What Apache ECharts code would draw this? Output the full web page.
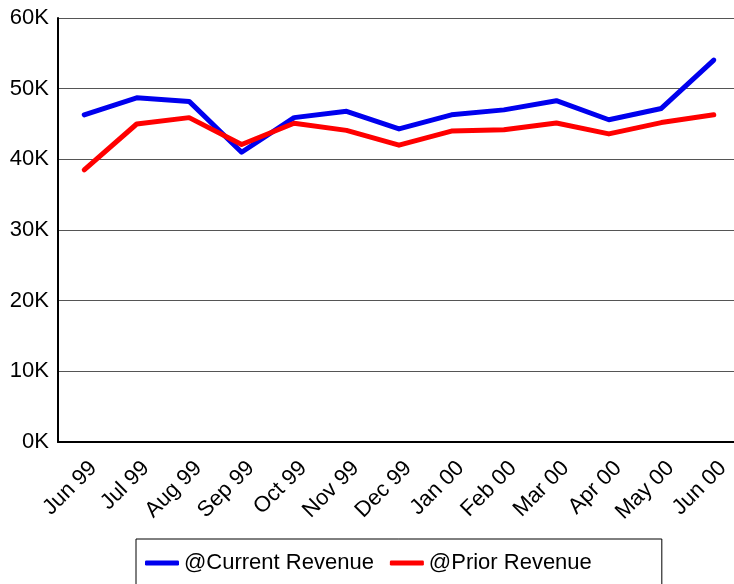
<!DOCTYPE html>
<html>
<head>
<meta charset="utf-8">
<script src="https://cdn.jsdelivr.net/npm/echarts@6/dist/echarts.min.js"></script>
<style>
  html, body { margin: 0; padding: 0; background: #fff; overflow: hidden; }
  /* a little wider than the window so the plot runs off the right edge */
  #chart { width: 740px; height: 584px; }
</style>
</head>
<body>
<div id="chart"></div>
<script>
// months on the x axis
const months = ['Jun 99', 'Jul 99', 'Aug 99', 'Sep 99', 'Oct 99', 'Nov 99', 'Dec 99',
  'Jan 00', 'Feb 00', 'Mar 00', 'Apr 00', 'May 00', 'Jun 00'];

// revenue values
const currentRevenue = [46300, 48700, 48200, 41000, 45900, 46800, 44300,
  46300, 47000, 48300, 45600, 47200, 54050];
const priorRevenue = [38500, 45000, 45900, 42100, 45100, 44100, 42000,
  44000, 44200, 45150, 43600, 45200, 46300];

const chart = echarts.init(document.getElementById('chart'));
const font = 'Liberation Sans, Arial, sans-serif';

const option = {
  animation: false,
  textStyle: {fontFamily: font},
  grid: {
    left: 58,
    right: 0,
    top: 18,
    bottom: 142,
    containLabel: false
  },
  legend: {
    left: 136,
    top: 539,
    orient: 'horizontal',
    borderColor: '#000',
    borderWidth: 1,
    padding: [13, 70, 13, 9],
    itemGap: 16,
    itemWidth: 34,
    itemHeight: 5,
    icon: 'roundRect',
    textStyle: {fontSize: 22, color: '#000', fontFamily: font},
    data: ['@Current Revenue', '@Prior Revenue']
  },
  xAxis: {
    type: 'category',
    data: months,
    boundaryGap: true,
    axisLine: {lineStyle: {color: '#000', width: 2}},
    axisTick: {show: false},
    axisLabel: {
      interval: 0,
      rotate: 45,
      fontSize: 22,
      color: '#000',
      margin: 32,
      padding: [0, -13, 0, 0]
    }
  },
  yAxis: {
    type: 'value',
    min: 0,
    max: 60000,
    interval: 10000,
    axisLine: {show: true, lineStyle: {color: '#000', width: 2}},
    axisTick: {show: false},
    axisLabel: {
      fontSize: 22,
      color: '#000',
      margin: 9,
      formatter: v => (v / 1000) + 'K'
    },
    splitLine: {lineStyle: {color: '#555', width: 1}}
  },
  series: [
    {
      name: '@Current Revenue',
      type: 'line',
      data: currentRevenue,
      symbol: 'none',
      color: '#0000ee',
      lineStyle: {width: 5, color: '#0000ee', cap: 'round', join: 'round'}
    },
    {
      name: '@Prior Revenue',
      type: 'line',
      data: priorRevenue,
      symbol: 'none',
      color: '#ff0000',
      lineStyle: {width: 5, color: '#ff0000', cap: 'round', join: 'round'}
    }
  ]
};

chart.setOption(option);
</script>
</body>
</html>
